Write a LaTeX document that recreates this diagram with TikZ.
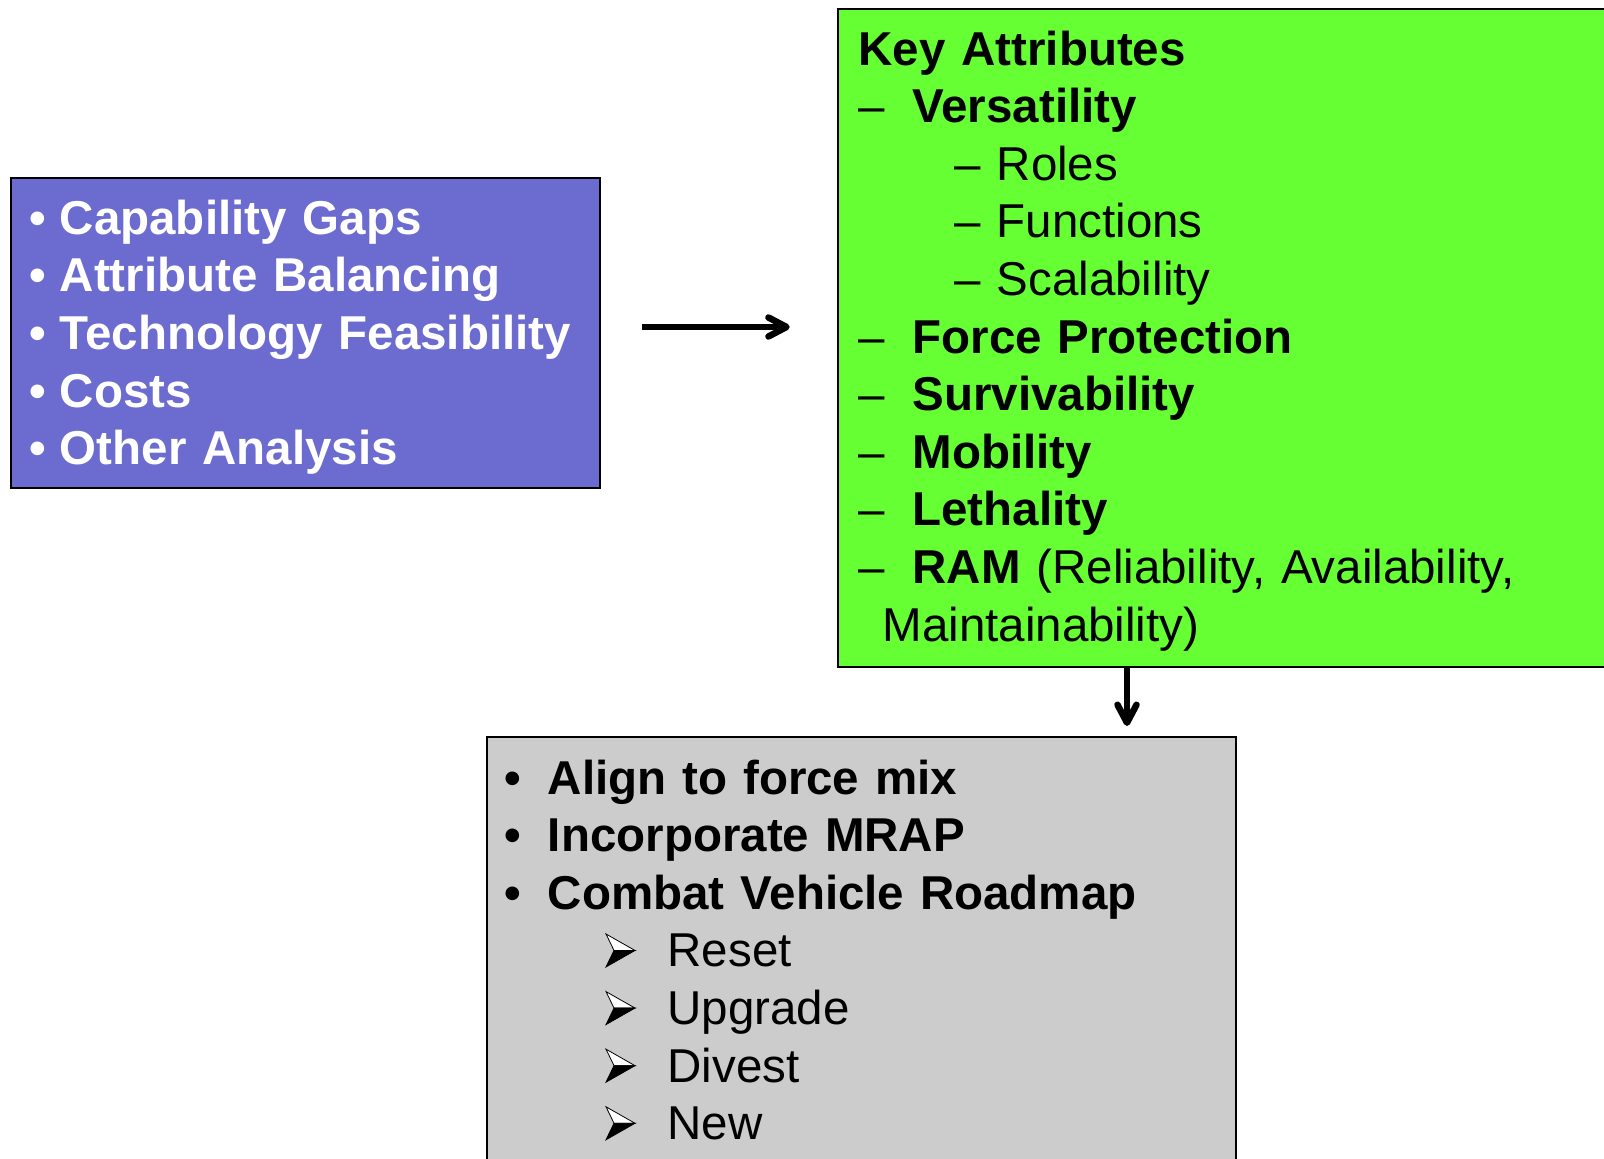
\documentclass[tikz,border=0pt]{standalone}
\usepackage{fontspec}
\setmainfont{Liberation Sans}
\usetikzlibrary{arrows.meta, positioning}

\definecolor{factorblue}{RGB}{108,108,208}
\definecolor{attrgreen}{RGB}{102,255,51}
\definecolor{roadgrey}{RGB}{204,204,204}

\newcommand{\bodyfont}{\fontsize{23.75}{28.8}\selectfont}
\newcommand{\lead}[1]{\rule{0pt}{#1}}
\newcommand{\dotitem}[2]{\makebox[#1][l]{\textbullet}#2}
\newcommand{\dashitem}[1]{\makebox[27pt][l]{–}\textbf{#1}}
\newcommand{\attrsub}[1]{\hspace*{48pt}–~#1}
% 3-D arrowhead bullet
\newcommand{\arrowmark}{\tikz[baseline=0pt, x=1pt, y=1pt, line width=0.4pt]{
		\filldraw[fill=white, draw=black] (0,16.5) -- (14.5,8.25) -- (4,8.25) -- cycle;
		\filldraw[fill=black, draw=black] (4,8.25) -- (14.5,8.25) -- (0,0) -- cycle;}}
\newcommand{\tipitem}[1]{\hspace*{50.5pt}\makebox[31pt][l]{\arrowmark}#1}

\begin{document}
\begin{tikzpicture}[x=0.5pt, y=-0.5pt,
    box/.style={draw=black, line width=1pt, align=left, font=\bodyfont},
    flow/.style={line width=3.25pt, -{Straight Barb[length=9pt, width=9.5pt, round]}}]
		\useasboundingbox (0,0) rectangle (1604,1159);
		\clip (0,0) rectangle (1604,1159);

		\node[box, fill=factorblue, text=white, font=\bodyfont\bfseries, minimum width=294.5pt, minimum height=155pt, text width=276pt, inner xsep=9.25pt] (factors) at (305.5,333) {
			\lead{21.5pt}\dotitem{15.2pt}{Capability Gaps}\\
			\dotitem{15.2pt}{Attribute Balancing}\\
			\dotitem{15.2pt}{Technology Feasibility}\\
			\dotitem{15.2pt}{Costs}\\
			\dotitem{15.2pt}{Other Analysis}};
		\node[box, fill=attrgreen, minimum width=391pt, minimum height=329pt, text width=370.5pt, inner xsep=10.25pt] (attrs) at (1229,338) {
			\lead{20pt}\textbf{Key Attributes}\\
			\dashitem{Versatility}\\
			\attrsub{Roles}\\
			\attrsub{Functions}\\
			\attrsub{Scalability}\\
			\dashitem{Force Protection}\\
			\dashitem{Survivability}\\
			\dashitem{Mobility}\\
			\dashitem{Lethality}\\
			\dashitem{RAM} (Reliability, Availability,\\
			\hspace*{12pt}Maintainability)};
		\node[box, fill=roadgrey, minimum width=374.5pt, minimum height=213pt, text width=356.9pt, inner xsep=8.8pt] (roadmap) at (861.5,950) {
			\textbf{\dotitem{21.7pt}{Align to force mix}}\\
			\textbf{\dotitem{21.7pt}{Incorporate MRAP}}\\
			\textbf{\dotitem{21.7pt}{Combat Vehicle Roadmap}}\\
			\tipitem{Reset}\\
			\tipitem{Upgrade}\\
			\tipitem{Divest}\\
			\tipitem{New}};

		\draw[flow, shorten <=20.5pt, shorten >=23.65pt] ([yshift=3pt]factors.east) -- ([yshift=3pt]factors.east -| attrs.west);
		\draw[flow, shorten >=5pt] ([xshift=-51pt]attrs.south) -- ([xshift=-51pt]attrs.south |- roadmap.north);
\end{tikzpicture}
\end{document}
